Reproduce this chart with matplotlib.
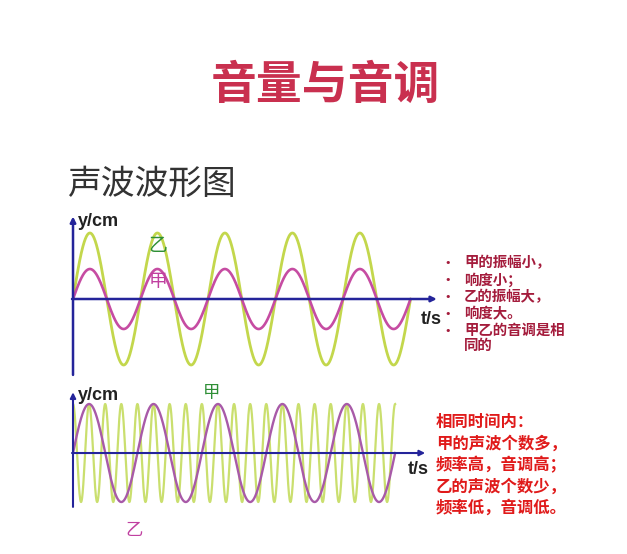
import numpy as np
import matplotlib
matplotlib.use("Agg")
import matplotlib.pyplot as plt

plt.rcParams['font.family'] = ['Noto Sans CJK SC', 'DejaVu Sans']

# ---- data ----
title = "音量与音调"
subtitle = "声波波形图"
# top chart: same frequency, different amplitude
top_labels = ["甲", "乙"]
top_amplitudes = [1.0, 2.2]
top_cycles = [5, 5]
# bottom chart: same amplitude, different frequency
bot_labels = ["甲", "乙"]
bot_amplitudes = [1.0, 1.0]
bot_cycles = [20, 5]
bot_phase = [np.pi / 2, 0.0]   # 甲 starts at a crest
top_notes = ["甲的振幅小，", "响度小；", "乙的振幅大，", "响度大。", "甲乙的音调是相", "同的"]
bot_notes = ["相同时间内：", "甲的声波个数多，", "频率高，音调高；", "乙的声波个数少，", "频率低，音调低。"]

W, H = 627, 554
fig = plt.figure(figsize=(W / 100, H / 100), dpi=100)
fig.patch.set_facecolor("white")

def px_axes(x0, y0, x1, y1):
    return fig.add_axes([x0 / W, 1 - y1 / H, (x1 - x0) / W, (y1 - y0) / H])

def ftext(x, y, s, **kw):
    fig.text(x / W, 1 - y / H, s, **kw)

navy = "#24249a"
green = "#c3d74c"
pink_top = "#c64ca2"
pink_bot = "#a85aa8"

# ---- top chart ----
ax1 = px_axes(72, 212, 440, 378)
ax1.set_xlim(-0.015, 5.437)
ax1.set_ylim(-2.633, 2.9)
ax1.axis("off")
t = np.linspace(0, top_cycles[0], 1500)
ax1.plot(t, top_amplitudes[1] * np.sin(2 * np.pi * t), color=green, lw=2.0, solid_capstyle="round")
ax1.plot(t, top_amplitudes[0] * np.sin(2 * np.pi * t), color=pink_top, lw=1.9, solid_capstyle="round")
ap = dict(arrowstyle="-|>", color=navy, lw=1.8, mutation_scale=8, shrinkA=0, shrinkB=0)
ax1.annotate("", xy=(5.39, 0), xytext=(-0.015, 0), arrowprops=ap)
ax1.annotate("", xy=(-0.0, 2.75), xytext=(-0.0, -2.53), arrowprops=ap)

# ---- bottom chart ----
ax2 = px_axes(72, 390, 428, 510)
ax2.set_xlim(-0.0155, 5.51)
ax2.set_ylim(-1.163, 1.286)
ax2.axis("off")
t2 = np.linspace(0, 5, 3000)
ax2.plot(t2, bot_amplitudes[0] * np.sin(2 * np.pi * bot_cycles[0] / 5 * t2 + bot_phase[0]),
         color="#cadf6e", lw=1.6)
ax2.plot(t2, bot_amplitudes[1] * np.sin(2 * np.pi * bot_cycles[1] / 5 * t2 + bot_phase[1]),
         color=pink_bot, lw=1.7)
ax2.annotate("", xy=(5.466, 0), xytext=(-0.0155, 0), arrowprops=dict(ap, lw=1.5))
ax2.annotate("", xy=(0.0, 1.24), xytext=(0.0, -1.10), arrowprops=dict(ap, lw=1.5))

# ---- texts ----
ftext(325, 86, title, fontsize=33, fontweight="bold", color="#c9304f", ha="center", va="center")
ftext(67, 184, subtitle, fontsize=24.3, color="#333333", ha="left", va="center", fontweight="light")

lab = dict(family=["Liberation Sans", "DejaVu Sans"], fontweight="bold", color="#222222")
ftext(78, 222, "y/cm", fontsize=13, ha="left", va="center", **lab)
ftext(421, 320, "t/s", fontsize=13, ha="left", va="center", **lab)
ftext(78, 395, "y/cm", fontsize=13, ha="left", va="center", **lab)
ftext(408, 470, "t/s", fontsize=13, ha="left", va="center", **lab)

ftext(158, 246, top_labels[1], fontsize=13.5, color="#2f8f36", ha="center", va="center")
ftext(158, 281, top_labels[0], fontsize=13.5, color="#c040a0", ha="center", va="center")
ftext(212, 393, bot_labels[0], fontsize=12.5, color="#2f8f36", ha="center", va="center")
ftext(134, 530, bot_labels[1], fontsize=12.5, color="#c040a0", ha="center", va="center")

note_c = "#a41c3c"
ys = [263, 280, 297, 314, 331, 346]
for i, (s, y) in enumerate(zip(top_notes, ys)):
    if i != 5:
        ftext(448, y, "•", fontsize=8, color=note_c, ha="center", va="center",
              family=["DejaVu Sans"])
    ftext(464, y, s, fontsize=10.4, color=note_c, ha="left", va="center", fontweight="bold")

ys2 = [422, 444, 465, 487, 508]
for s, y in zip(bot_notes, ys2):
    ftext(436, y, s, fontsize=11.8, color="#e01a1a", ha="left", va="center", fontweight="bold")

fig.savefig("out.png", dpi=100, facecolor="white")
